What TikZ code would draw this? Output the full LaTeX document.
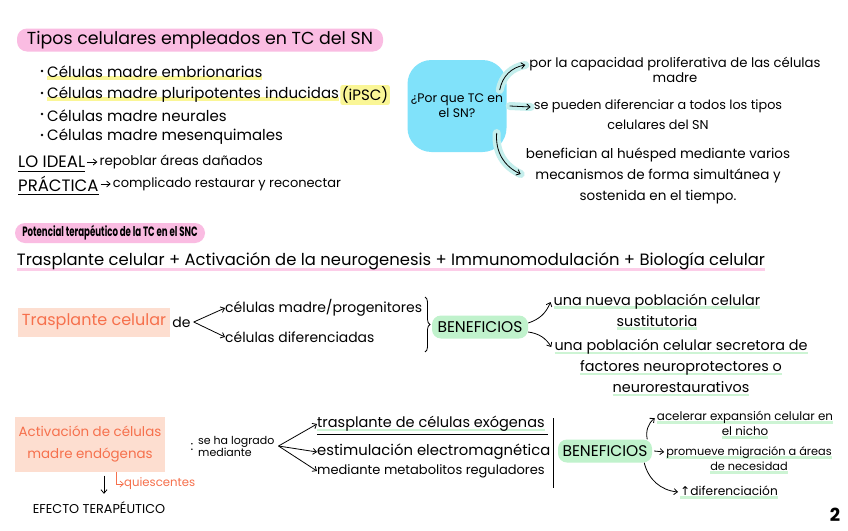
\documentclass[tikz,border=0pt]{standalone}
\usepackage{fontspec}
\setmainfont{Poppins}
\newfontfamily\symfont{DejaVu Sans}
\usetikzlibrary{arrows.meta,positioning,decorations.pathreplacing}
\definecolor{pillpink}{RGB}{250,188,226}
\definecolor{linepink}{RGB}{252,205,232}
\definecolor{hlyellow}{RGB}{250,246,150}
\definecolor{skyblue}{RGB}{128,226,250}
\definecolor{glowteal}{RGB}{196,238,236}
\definecolor{peach}{RGB}{253,222,208}
\definecolor{coral}{RGB}{246,112,76}
\definecolor{mint}{RGB}{192,242,204}
\definecolor{hlgreen}{RGB}{205,244,212}
\newcommand{\fsz}[2]{\fontsize{#1}{#2}\selectfont}
\newcommand{\hilite}[4]{\sbox0{#4}\rlap{\color{#1}\rule[#2]{\wd0}{#3}}\usebox0}
\newcommand{\gr}[1]{\hilite{hlgreen}{-3.5pt}{2.5pt}{#1}}
\newcommand{\yl}[1]{\hilite{hlyellow}{-2.5pt}{4pt}{#1}}

\begin{document}
\begin{tikzpicture}[x=1pt, y=-1pt, >={Straight Barb[length=3.5pt,width=6pt]},
	every node/.style={inner sep=0pt},
	pill/.style={fill=pillpink, rounded corners=10pt, minimum height=23pt},
	qbox/.style={fill=skyblue, rounded corners=24pt, minimum width=99pt, minimum height=92pt, align=center, font=\fsz{12.4}{15}},
	peachbox/.style={fill=peach, text=coral, align=center},
	benbox/.style={fill=mint, rounded corners=9pt, minimum height=23pt, font=\fsz{15.5}{17}},
	glow/.style={preaction={draw=glowteal, line width=8pt, line cap=round, -}},
	hand/.style={->, line width=0.8pt}]
	\fill[white] (0,0) rectangle (848,530);
	\useasboundingbox (0,0) rectangle (848,530);
	% tipos celulares
	\node[pill, minimum width=366pt, font=\fsz{17.4}{20}] (tit1) at (200,40) {Tipos celulares empleados en TC del SN};
	\node[anchor=west, font=\fsz{15}{17}] (cel1) at (47,73) {\yl{Células madre embrionarias}};
	\node[anchor=west, font=\fsz{15}{17}] (cel2) at (47,95) {\yl{Células madre pluripotentes inducidas}};
	\node[right=1pt of cel2, fill=hlyellow, inner sep=1.5pt, rounded corners=2pt, font=\fsz{15}{17}] (ipsc) {(iPSC)};
	\node[anchor=west, font=\fsz{15}{17}] (cel3) at (47,116) {Células madre neurales};
	\node[anchor=west, font=\fsz{15}{17}] (cel4) at (47,137) {Células madre mesenquimales};
	\foreach \n in {cel1,cel2,cel3,cel4} {\fill ([xshift=-5pt,yshift=2pt]\n.west) circle (1.3pt);}
	\node[anchor=west, font=\fsz{16.5}{18}] (ideal) at (18,162) {LO IDEAL};
	\node[right=14pt of ideal, font=\fsz{13.4}{15}] (repo) {repoblar áreas dañados};
	\node[anchor=west, font=\fsz{16.5}{18}] (prac) at (18,184) {PRÁCTICA};
	\node[right=14pt of prac, font=\fsz{13}{15}] (comp) {complicado restaurar y reconectar};
	\foreach \n in {ideal,prac} {\draw[line width=0.9pt] ([yshift=-3pt]\n.south west) -- ([yshift=-3pt]\n.south east);}
	\draw[hand, shorten <=2pt, shorten >=2pt] (ideal.east) -- (repo.west);
	\draw[hand, shorten <=2pt, shorten >=2pt] (prac.east) -- (comp.west);
	% por que TC
	\node[qbox] (why) at (457,106) {¿Por que TC en\\el SN?};
	\node[align=center, font=\fsz{13.2}{15}] (r1) at (675,70) {por la capacidad proliferativa de las células\\madre};
	\node[align=center, font=\fsz{12.8}{20}] (r2) at (658,115) {se pueden diferenciar a todos los tipos\\celulares del SN};
	\node[align=center, font=\fsz{13.5}{21}] (r3) at (658,176) {benefician al huésped mediante varios\\mecanismos de forma simultánea y\\sostenida en el tiempo.};
	\draw[hand, glow] ([xshift=-7pt,yshift=16pt]why.east) to[bend left=35] ([xshift=-4pt,yshift=5pt]r1.west);
	\draw[hand, glow] ([xshift=3pt]why.east) -- ([xshift=-3pt,yshift=8pt]r2.west);
	\draw[hand, glow] ([xshift=-10pt,yshift=-27pt]why.east) to[bend right=35] ([xshift=-5pt,yshift=2pt]r3.west);
	% potencial terapeutico
	\node[pill, minimum width=190pt, minimum height=20pt, font=\bfseries\fsz{13.5}{15}] (pot) at (110,233) {\scalebox{0.64}[1]{Potencial terapéutico de la TC en el SNC}};
	\node[font=\fsz{16.4}{18}] (lin) at (391,262) {\hilite{linepink}{-6pt}{3pt}{Trasplante celular + Activación de la neurogenesis + Immunomodulación + Biología celular}};
	% trasplante
	\node[peachbox, minimum width=152pt, minimum height=29pt, font=\fsz{16}{18}] (tras) at (94,322) {Trasplante celular};
	\node[right=2pt of tras, font=\fsz{14}{16}] (de) {de};
	\node[anchor=west, font=\fsz{14}{16}] (prog) at (225,308) {células madre/progenitores};
	\node[anchor=west, font=\fsz{13.9}{16}] (difc) at (225,337) {células diferenciadas};
	\draw[hand] ([xshift=3pt]de.east) -- (prog.west);
	\draw[hand] ([xshift=3pt]de.east) -- (difc.west);
	\draw[decorate, decoration={brace, amplitude=5pt}, line width=0.8pt] (425,297) -- (425,352);
	\node[benbox, minimum width=96pt] (ben1) at (480,327) {BENEFICIOS};
	\node[align=center, font=\fsz{14.4}{21}] (sub1) at (657,312) {\gr{una nueva población celular}\\\gr{sustitutoria}};
	\node[align=center, font=\fsz{14.4}{21}] (sub2) at (681,368) {\gr{una población celular secretora de}\\\gr{factores neuroprotectores o}\\\gr{neurorestaurativos}};
	\draw[hand] ([yshift=4pt]ben1.east) to[bend right=25] ([xshift=-3pt,yshift=10pt]sub1.west);
	\draw[hand] ([yshift=-5pt]ben1.east) to[bend left=25] ([xshift=-3pt,yshift=21pt]sub2.west);
	% activacion
	\node[peachbox, minimum width=150pt, minimum height=55pt, font=\fsz{13.4}{22}] (act) at (90,444) {Activación de células\\madre endógenas};
	\node[font=\fsz{13}{14}] (colon) at (192,447) {:};
	\node[anchor=west, align=left, font=\fsz{11}{12}] (medi) at (198,446) {se ha logrado\\mediante};
	\node[anchor=west, font=\fsz{14.5}{16}] (via1) at (317,424) {\gr{trasplante de células exógenas}};
	\node[anchor=west, font=\fsz{14.8}{16}] (via2) at (317,452) {estimulación electromagnética};
	\node[anchor=west, font=\fsz{13}{16}] (via3) at (317,471) {mediante metabolitos reguladores};
	\draw[line width=0.8pt] ([yshift=-3pt]via1.south west) -- ([xshift=3pt,yshift=-3pt]via1.south east);
	\foreach \v in {via1,via2,via3} {\draw[hand] ([xshift=4pt]medi.east) -- (\v.west);}
	\draw[line width=0.9pt] (553,418) -- (553,488);
	\node[benbox, minimum width=94pt] (ben2) at (605,451) {BENEFICIOS};
	\node[align=center, font=\fsz{11.9}{15}] (eff1) at (745,425) {\gr{acelerar expansión celular en}\\\gr{el nicho}};
	\node[align=center, font=\fsz{11.3}{15}] (eff2) at (749,460) {\gr{promueve migración a áreas}\\\gr{de necesidad}};
	\node[anchor=west, font=\fsz{12.2}{15}] (eff3) at (680,492) {\gr{{\symfont ↑}diferenciación}};
	\draw[hand] ([xshift=-5pt]ben2.north east) to[bend left=30] ([xshift=-2pt,yshift=7pt]eff1.west);
	\draw[hand] ([xshift=2pt]ben2.east) -- ([xshift=-2pt,yshift=8pt]eff2.west);
	\draw[hand] ([xshift=-8pt]ben2.south east) to[bend right=35] ([xshift=-2pt]eff3.west);
	\node[anchor=west, text=coral, font=\fsz{11.7}{13}] (qui) at (124,484) {quiescentes};
	\draw[->, coral, line width=0.7pt] ([xshift=26pt]act.south) |- (qui.west);
	\node[font=\fsz{12.8}{15}] (efe) at (99,508) {EFECTO TERAPÉUTICO};
	\draw[hand] ([xshift=14pt,yshift=-4pt]act.south) -- ([xshift=5pt,yshift=8pt]efe.north);
	\node[font=\bfseries\fsz{18}{20}] (pg) at (835,515) {2};
\end{tikzpicture}
\end{document}
